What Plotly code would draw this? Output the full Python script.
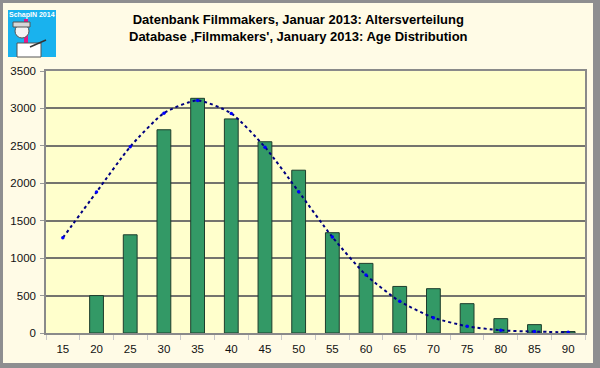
import plotly.graph_objects as go

ages = ["15", "20", "25", "30", "35", "40", "45", "50", "55", "60", "65", "70", "75", "80", "85", "90"]
counts = [None, 500, 1312, 2715, 3135, 2860, 2555, 2175, 1340, 930, 622, 592, 392, 192, 112, 20]
trend = [1272, 1883, 2489, 2937, 3107, 2933, 2483, 1888, 1282, 774, 423, 205, 90, 36, 19, 9]

title_de = "Datenbank Filmmakers, Januar 2013: Altersverteilung"
title_en = "Database \u201aFilmmakers', January 2013: Age Distribution"
logo_text = "SchapIN 2014"

W, H = 600, 368
L, R, T, B = 46, 15, 71, 35
PW, PH = W - L - R, H - T - B

def px(x):
    return (x - L) / PW

def py(y):
    return (H - B - y) / PH

fig = go.Figure()
fig.add_trace(go.Bar(
    x=ages, y=counts,
    marker=dict(color="#339966", line=dict(color="#1e3d2c", width=1)),
    width=0.41, hoverinfo="x+y", showlegend=False,
))
fig.add_trace(go.Scatter(
    x=ages, y=trend, mode="lines+markers",
    line=dict(color="#000080", width=2, dash="dot", shape="spline", smoothing=0.6),
    marker=dict(color="#0000ff", size=3.5),
    showlegend=False,
))

shapes = [
    # cream panel inside grey frame
    dict(type="rect", xref="paper", yref="paper", x0=px(3), x1=px(593), y0=py(363), y1=py(3),
         fillcolor="#fffbe6", line=dict(width=0), layer="below"),
    # plot area
    dict(type="rect", xref="paper", yref="paper", x0=0, x1=1, y0=0, y1=1,
         fillcolor="#ffffcc", line=dict(width=0), layer="below"),
    # logo
    dict(type="rect", xref="paper", yref="paper", x0=px(8), x1=px(56), y0=py(57), y1=py(10),
         fillcolor="#19b2ee", line=dict(width=0), layer="above"),
    dict(type="rect", xref="paper", yref="paper", x0=px(24), x1=px(28), y0=py(57), y1=py(19),
         fillcolor="#e8178a", line=dict(width=0), layer="above"),
    dict(type="circle", xref="paper", yref="paper", x0=px(15), x1=px(29), y0=py(38), y1=py(24),
         fillcolor="#f4f4f4", line=dict(color="#555555", width=1), layer="above"),
    dict(type="rect", xref="paper", yref="paper", x0=px(13), x1=px(30), y0=py(27), y1=py(22),
         fillcolor="#d8d8d8", line=dict(color="#555555", width=1), layer="above"),
    dict(type="rect", xref="paper", yref="paper", x0=px(17), x1=px(41), y0=py(57), y1=py(43),
         fillcolor="#ffffff", line=dict(color="#555555", width=1), layer="above"),
    dict(type="line", xref="paper", yref="paper", x0=px(30), x1=px(46), y0=py(47), y1=py(40),
         line=dict(color="#333333", width=1.5), layer="above"),
]

fig.update_layout(
    width=W, height=H,
    margin=dict(l=L, r=R, t=T, b=B, autoexpand=False),
    paper_bgcolor="#8e8e90",
    plot_bgcolor="#ffffcc",
    bargap=0.59,
    shapes=shapes,
    font=dict(family="Liberation Sans, Arial, sans-serif", size=11, color="#111111"),
    annotations=[
        dict(text="<b>" + title_de + "</b><br><b>" + title_en + "</b>",
             xref="paper", yref="paper", x=px(298), y=py(28), xanchor="center", yanchor="middle",
             showarrow=False, font=dict(size=13, color="#000000"), align="center"),
        dict(text="<b>" + logo_text + "</b>", xref="paper", yref="paper",
             x=px(32), y=py(15), xanchor="center", yanchor="middle", showarrow=False,
             font=dict(size=7, color="#ffffff")),
    ],
    xaxis=dict(
        type="category", showgrid=False, showline=True, linecolor="#8a8a8a", linewidth=1.5,
        mirror=True, ticks="outside", tickson="boundaries", ticklen=5, tickcolor="#c8c8c8",
        tickfont=dict(size=11.5), ticklabelstandoff=4, range=[-0.5, 15.5], fixedrange=True,
    ),
    yaxis=dict(
        range=[0, 3500], dtick=500, showgrid=True, gridcolor="#74746e", gridwidth=1.5,
        showline=True, linecolor="#8a8a8a", linewidth=1.5, mirror=True,
        ticks="outside", ticklen=4, tickcolor="#9a9a9a", tickfont=dict(size=11.5),
        ticklabelstandoff=2, zeroline=False, fixedrange=True,
    ),
)

fig.write_html(
    "out.html",
    config={"displayModeBar": False},
    post_script="document.body.style.margin='0';document.body.style.overflow='hidden';",
)
